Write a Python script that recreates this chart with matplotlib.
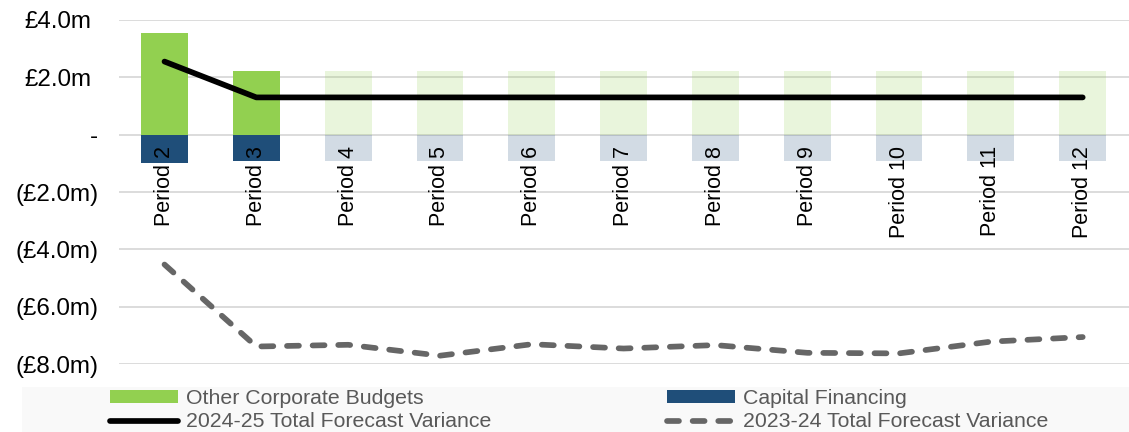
import matplotlib
matplotlib.use("Agg")
import matplotlib.pyplot as plt
from matplotlib.patches import Rectangle, Patch
from matplotlib.lines import Line2D
from matplotlib.transforms import ScaledTranslation

# ---- data (£m) ----
periods = ["Period 2", "Period 3", "Period 4", "Period 5", "Period 6", "Period 7",
           "Period 8", "Period 9", "Period 10", "Period 11", "Period 12"]
other_corporate = [3.53, 2.23, 2.23, 2.23, 2.23, 2.23, 2.23, 2.23, 2.23, 2.23, 2.23]
capital_financing = [-0.98, -0.93, -0.93, -0.93, -0.93, -0.93, -0.93, -0.93, -0.93, -0.93, -0.93]
total_2024_25 = [2.55, 1.30, 1.30, 1.30, 1.30, 1.30, 1.30, 1.30, 1.30, 1.30, 1.30]
total_2023_24 = [-4.53, -7.39, -7.33, -7.71, -7.31, -7.46, -7.34, -7.61, -7.63, -7.22, -7.06]
reported_periods = 2          # later periods are shown faded (forecast)
y_ticks = [4, 2, 0, -2, -4, -6, -8]

GREEN = "#92D050"
BLUE = "#1F4E79"
BLACK_LINE = "#000000"
GREY_LINE = "#666666"
GRID = "#D9D9D9"
LEGEND_TEXT = "#595959"

plt.rcParams["font.family"] = ["Liberation Sans", "DejaVu Sans"]

fig = plt.figure(figsize=(11.29, 4.32), dpi=100)
W, H = 1129, 432
ax = fig.add_axes([118.6 / W, 1 - 364 / H, (1128.6 - 118.6) / W, (364 - 20) / H])

x = list(range(len(periods)))
alphas = [1.0 if i < reported_periods else 0.2 for i in x]

for i in x:
    ax.bar(i, other_corporate[i], width=0.51, color=GREEN, alpha=alphas[i],
           linewidth=0, zorder=2)
    ax.bar(i, capital_financing[i], width=0.51, color=BLUE, alpha=alphas[i],
           linewidth=0, zorder=2)

lw = 4.1
dash = (2.1, 2.4)
ax.plot(x, total_2024_25, color=BLACK_LINE, lw=lw, solid_capstyle="round",
        solid_joinstyle="round", zorder=4)
ax.plot(x, total_2023_24, color=GREY_LINE, lw=lw, dashes=dash,
        dash_capstyle="round", dash_joinstyle="round", zorder=4)

ax.set_xlim(-0.5, len(periods) - 0.5)
ax.set_ylim(-8, 4)

# horizontal grid
ax.set_axisbelow(True)
ax.yaxis.grid(True, color=GRID, lw=1.3)
ax.xaxis.grid(False)

for s in ax.spines.values():
    s.set_visible(False)

# category labels sit on the zero line
ax.spines["bottom"].set_position(("data", 0))
ax.set_xticks(x, periods, rotation=90)
ax.tick_params(axis="x", length=0, pad=8, labelsize=15.5, labelcolor="black")
ax.xaxis.set_zorder(5)


def money(v):
    if v > 0:
        return f"£{v:.1f}m"
    if v < 0:
        return f"(£{abs(v):.1f}m)"
    return "-"


ax.set_yticks(y_ticks, [money(v) for v in y_ticks])
ax.tick_params(axis="y", length=0, pad=14.5, labelsize=17.4, labelcolor="black")
# positive values leave room for the closing bracket
for v, lbl in zip(y_ticks, ax.get_yticklabels()):
    if v > 0:
        lbl.set_transform(lbl.get_transform() +
                          ScaledTranslation(-7 / 100, 0, fig.dpi_scale_trans))

# legend band
fig.patches.append(Rectangle((22 / W, 0), 1 - 22 / W, 45 / H,
                             transform=fig.transFigure, facecolor="#F9F9F9",
                             edgecolor="none", zorder=0))

handles = [
    Patch(facecolor=GREEN, edgecolor="none"),
    Line2D([], [], color=BLACK_LINE, lw=lw, solid_capstyle="round"),
    Patch(facecolor=BLUE, edgecolor="none"),
    Line2D([], [], color=GREY_LINE, lw=lw, dashes=dash, dash_capstyle="round"),
]
labels = ["Other Corporate Budgets", "2024-25 Total Forecast Variance",
          "Capital Financing", "2023-24 Total Forecast Variance"]
leg = fig.legend(handles, labels, ncol=2, loc="upper left",
                 bbox_to_anchor=(110 / W, 1 - 389 / H), frameon=False,
                 fontsize=15.3, handlelength=3.2, handleheight=0.5,
                 handletextpad=0.38, columnspacing=8.26, labelspacing=0.21,
                 borderpad=0, borderaxespad=0)
for t in leg.get_texts():
    t.set_color(LEGEND_TEXT)

fig.savefig("out.png", dpi=100)
